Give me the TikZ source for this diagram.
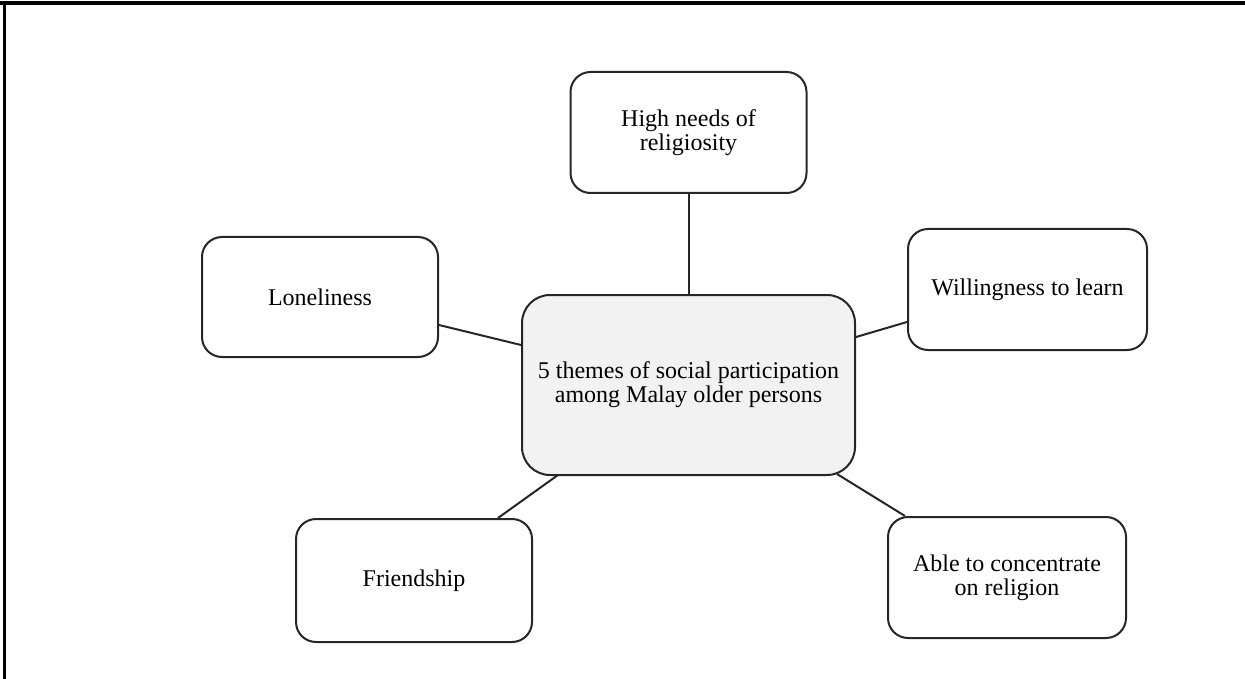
\documentclass[tikz,border=0pt]{standalone}
\usepackage{fontspec}
\setmainfont{Liberation Serif}
\begin{document}
\begin{tikzpicture}[x=1pt,y=-1pt,
  every node/.style={font=\fontsize{24}{24}\selectfont, align=center, inner sep=0pt},
  theme/.style={draw=black!85, line width=2pt, rounded corners=20pt, fill=white},
  core/.style={draw=black!85, line width=2pt, rounded corners=28pt, fill=black!5},
  link/.style={draw=black!85, line width=2pt}]
\useasboundingbox (0,0) rectangle (1245,679);
% frame
\draw[line width=3.5pt] (0,3) -- (1245,3);
\draw[line width=2.5pt] (4.5,3) -- (4.5,679);
% nodes
\node[core, minimum width=333pt, minimum height=180pt] (ctr) at (688.5,385) {5 themes of social participation\\among Malay older persons};
\node[theme, minimum width=236pt, minimum height=121pt] (hn) at (688.5,132.5) {High needs of\\religiosity};
\node[theme, minimum width=236pt, minimum height=120pt] (lon) at (320,297) {Loneliness};
\node[theme, minimum width=239pt, minimum height=121pt] (will) at (1027.5,289.5) {Willingness to learn};
\node[theme, minimum width=236pt, minimum height=123pt] (fri) at (414,580.5) {Friendship};
\node[theme, minimum width=238pt, minimum height=121pt] (able) at (1007,577.5) {Able to concentrate\\on religion};
% connectors
\draw[link] (hn.south) -- (ctr.north);
\draw[link] ([yshift=-28pt]lon.east) -- ([yshift=40pt]ctr.west);
\draw[link] ([yshift=-32.5pt]will.west) -- ([yshift=48pt]ctr.east);
\draw[link] ([xshift=84pt]fri.north) -- ([xshift=-130.5pt,yshift=1pt]ctr.south);
\draw[link] ([xshift=-102pt]able.north) -- ([xshift=148.5pt,yshift=2pt]ctr.south);
\end{tikzpicture}
\end{document}
